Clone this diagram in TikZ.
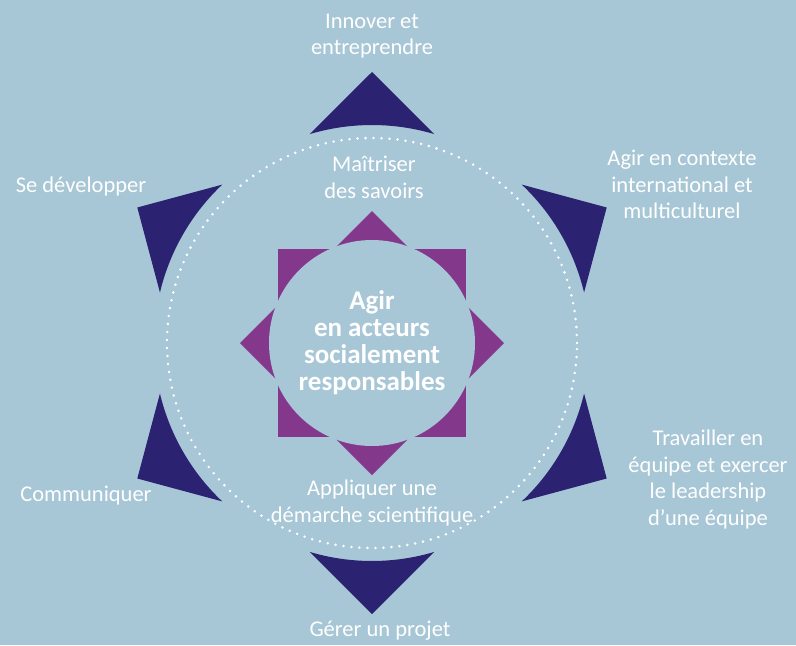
\documentclass[tikz,border=0pt]{standalone}
\usepackage{fontspec}
\setmainfont{Carlito}
\usepackage{xcolor}
\usepackage{tikz}
\usetikzlibrary{positioning, calc}

\definecolor{fond}{RGB}{167,198,214}
\definecolor{nuit}{RGB}{44,34,114}
\definecolor{prune}{RGB}{131,56,139}

\begin{document}
\begin{tikzpicture}[node distance=2cm,
  lbl/.style={text=white, align=center, font=\fontsize{16}{18.8}\selectfont},
  pointe/.style={fill=nuit}]
\useasboundingbox[fill=fond] (-9.3,-7.55) rectangle (10.6,8.575);

% etoile du centre
\fill[prune] (-2.35,-2.35) rectangle (2.35,2.35);
\fill[prune] (0,3.3) -- (3.3,0) -- (0,-3.3) -- (-3.3,0) -- cycle;
\fill[fond] (0,0) circle (2.575);

\node (centre)[text=white, align=center, font=\fontsize{19.2}{19.2}\selectfont\bfseries] at (0,0) {Agir\\en acteurs\\socialement\\responsables};

% cercle en pointilles
\draw[white, line width=2pt, line cap=round, dash pattern=on 0pt off 5.7pt] (0,0) circle (5.125);

% les six pointes
\fill[pointe] (106.6:5.45) -- (90:6.775) -- (73.4:5.45) arc[start angle=73.4, end angle=106.6, radius=5.45cm] -- cycle;
\fill[pointe] (46.6:5.45) -- (30:6.775) -- (13.4:5.45) arc[start angle=13.4, end angle=46.6, radius=5.45cm] -- cycle;
\fill[pointe] (-13.4:5.45) -- (-30:6.775) -- (-46.6:5.45) arc[start angle=-46.6, end angle=-13.4, radius=5.45cm] -- cycle;
\fill[pointe] (-73.4:5.45) -- (-90:6.775) -- (-106.6:5.45) arc[start angle=-106.6, end angle=-73.4, radius=5.45cm] -- cycle;
\fill[pointe] (-133.4:5.45) -- (-150:6.775) -- (-166.6:5.45) arc[start angle=-166.6, end angle=-133.4, radius=5.45cm] -- cycle;
\fill[pointe] (166.6:5.45) -- (150:6.775) -- (133.4:5.45) arc[start angle=133.4, end angle=166.6, radius=5.45cm] -- cycle;

\node (innover)[lbl] at (0,7.675) {Innover et\\entreprendre};
\node (maitriser)[lbl] at (0.05,4.14) {Maîtriser\\des savoirs};
\node (developper)[lbl] at (-7.275,3.925) {Se développer};
\node (contexte)[lbl] at (7.75,3.96) {Agir en contexte\\international et\\multiculturel};
\node (communiquer)[lbl] at (-7.15,-3.825) {Communiquer};
\node (equipe)[lbl] at (8.4,-3.41) {Travailler en\\équipe et exercer\\le leadership\\d’une équipe};
\node (demarche)[lbl] at (0,-4.0) {Appliquer une\\démarche scientifique};
\node (projet)[lbl] at (0.2,-7.2) {Gérer un projet};

\end{tikzpicture}
\end{document}
